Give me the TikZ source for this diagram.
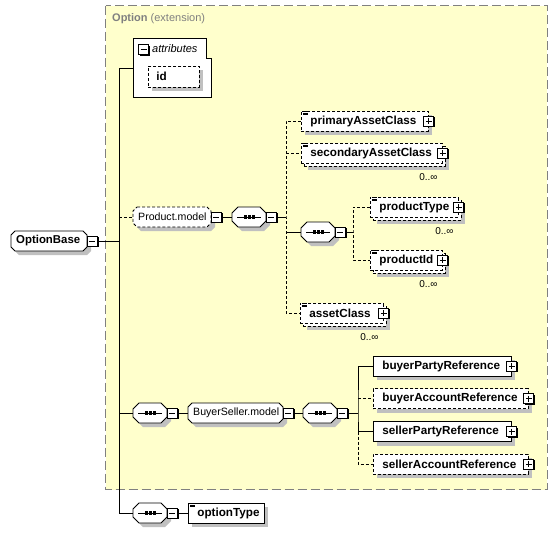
\documentclass[tikz,border=0pt]{standalone}
\usepackage{fontspec}
\setmainfont{Liberation Sans}
\usetikzlibrary{calc,shadows}
\definecolor{optyellow}{RGB}{255,255,204}
\definecolor{shade}{RGB}{192,192,192}
\definecolor{framegray}{RGB}{128,128,128}
\tikzset{
 shd/.style={drop shadow={shadow xshift=4pt,shadow yshift=-4pt,fill=shade,opacity=1,draw=none}},
 elbox/.style={draw,fill=white,line width=0.8pt,rectangle,minimum height=20pt,inner xsep=9pt,inner ysep=0pt,align=left,anchor=west,font=\fontsize{11.7}{13}\selectfont\bfseries},
 grp/.style={rectangle,minimum height=20pt,inner xsep=5pt,inner ysep=0pt,align=left,anchor=west},
 opt/.style={dash pattern=on 3pt off 2pt},
 conn/.style={line width=0.8pt},
 pmbox/.style={draw,fill=white,line width=0.8pt,minimum size=10pt,inner sep=0pt,rectangle,drop shadow={shadow xshift=1.2pt,shadow yshift=-1.2pt,fill=black,opacity=1,draw=none}},
 minusbox/.style={pmbox,path picture={\draw[line width=0.9pt] ([xshift=2pt]path picture bounding box.west) -- ([xshift=-2pt]path picture bounding box.east);}},
 plusbox/.style={pmbox,path picture={\draw[line width=0.9pt] ([xshift=2pt]path picture bounding box.west) -- ([xshift=-2pt]path picture bounding box.east) ([yshift=-2pt]path picture bounding box.north) -- ([yshift=2pt]path picture bounding box.south);}},
 mult/.style={font=\fontsize{10}{12}\selectfont,anchor=east,inner sep=0pt},
}
% octagon path: style, x1, y1, x2, y2, cut
\newcommand\octo[6]{\path[#1] (#2+#6,#3) -- (#4-#6,#3) -- (#4,#3+#6) -- (#4,#5-#6) -- (#4-#6,#5) -- (#2+#6,#5) -- (#2,#5-#6) -- (#2,#3+#6) -- cycle;}
% sequence compositor: name, left x, centre y
\newcommand\seqnode[3]{%
 \octo{draw,fill=white,conn,shd}{#2}{#3-10}{#2+34}{#3+10}{6}
 \node[inner sep=0pt,minimum width=34pt,minimum height=20pt,anchor=west] (#1) at (#2,#3) {};
 \draw[line width=1pt] ($(#1.west)+(5,0)$) -- ($(#1.east)+(-5,0)$);
 \fill ($(#1.center)+(-5.7,-1.6)$) rectangle +(3.2,3.2);
 \fill ($(#1.center)+(-1.6,-1.6)$) rectangle +(3.2,3.2);
 \fill ($(#1.center)+(2.5,-1.6)$) rectangle +(3.2,3.2);
 \node[minusbox] (#1m) at ($(#1.east)+(5,0)$) {};}
\newcommand\elicon[1]{\draw[line width=0.6pt] ($(#1.north west)+(2,1)$) -- +(5,0) ($(#1.north west)+(2,2.5)$) -- +(5,0) ($(#1.north west)+(2,4)$) -- +(5,0);}
\begin{document}
\begin{tikzpicture}[x=1pt,y=-1pt]
\useasboundingbox (0,0) rectangle (556,533);
% extension frame
\draw[fill=optyellow,draw=framegray,line width=1pt,dash pattern=on 9pt off 4pt] (105.5,5.5) rectangle (547,489.5);
\node[anchor=west,text=framegray,font=\fontsize{11}{13}\selectfont,inner sep=0pt] (title) at (112,19) {\textbf{Option} (extension)};

% attributes
\draw[fill=white,line width=0.8pt] (133,38) -- (206,38) -- (206,58) -- (211,58) -- (211,97) -- (133,97) -- cycle;
\node[inner sep=0pt,minimum width=78pt,minimum height=59pt,anchor=north west] (attrs) at (133,38) {};
\node[minusbox] (attrm) at (143.5,49.5) {};
\node[anchor=west,inner sep=0pt,font=\fontsize{11}{13}\selectfont\itshape] (attrt) at (152,48.5) {attributes};
\node[elbox,opt,shd,text width=35pt,inner xsep=8pt,minimum height=21pt] (id) at (148,76.5) {id};

% OptionBase
\octo{draw,fill=white,conn,shd}{11}{231}{87}{251}{4}
\node[grp,text width=66pt,font=\fontsize{11.4}{13}\selectfont\bfseries] (ob) at (11,241) {OptionBase};
\node[minusbox] (obm) at ($(ob.east)+(5,0)$) {};

% Product.model
\octo{draw,fill=white,conn,opt,shd}{133}{207}{211}{227}{4}
\node[grp,text width=68pt,font=\fontsize{10.6}{12}\selectfont] (pmod) at (133,217) {Product.model};
\node[minusbox] (pmodm) at ($(pmod.east)+(5,0)$) {};
\seqnode{seqa}{232}{217}
\seqnode{seqb}{301}{232}

% elements of Product.model
\node[elbox,opt,shd,text width=109pt] (prim) at (301,121) {primaryAssetClass};
\elicon{prim}
\node[plusbox] (primp) at (prim.east) {};

\node[elbox,opt,shd,text width=123pt] (secb) at (304,156) {};
\node[elbox,opt,text width=123pt] (sec) at (301,153) {secondaryAssetClass};
\elicon{sec}
\node[plusbox] (secp) at (sec.east) {};
\node[mult] (secl) at ($(sec.south east)+(-5,14)$) {0..∞};

\node[elbox,opt,shd,text width=70pt] (ptypeb) at (373,210) {};
\node[elbox,opt,text width=70pt] (ptype) at (370,207) {productType};
\elicon{ptype}
\node[plusbox] (ptypep) at (ptype.east) {};
\node[mult] (ptypel) at ($(ptype.south east)+(-5,13.5)$) {0..∞};

\node[elbox,opt,shd,text width=54pt] (pidb) at (373,263) {};
\node[elbox,opt,text width=54pt] (pid) at (370,260) {productId};
\elicon{pid}
\node[plusbox] (pidp) at (pid.east) {};
\node[mult] (pidl) at ($(pid.south east)+(-5,13.5)$) {0..∞};

\node[elbox,opt,shd,text width=65pt] (assetb) at (303,316) {};
\node[elbox,opt,text width=65pt] (asset) at (300,313) {assetClass};
\elicon{asset}
\node[plusbox] (assetp) at (asset.east) {};
\node[mult] (assetl) at ($(asset.south east)+(-5,13.5)$) {0..∞};

% BuyerSeller branch
\seqnode{seqc}{133}{413}
\octo{draw,fill=white,conn,shd}{188}{403}{283}{423}{4}
\node[grp,text width=85pt,font=\fontsize{10.6}{12}\selectfont] (bsm) at (188,413) {BuyerSeller.model};
\node[minusbox] (bsmm) at ($(bsm.east)+(5,0)$) {};
\seqnode{seqd}{303}{413}

\node[elbox,shd,text width=120pt] (bpr) at (373,366) {buyerPartyReference};
\node[plusbox] (bprp) at (bpr.east) {};
\node[elbox,opt,shd,text width=137pt] (bar) at (373,398.5) {buyerAccountReference};
\node[plusbox] (barp) at (bar.east) {};
\node[elbox,shd,text width=120pt] (spr) at (373,431.5) {sellerPartyReference};
\node[plusbox] (sprp) at (spr.east) {};
\node[elbox,opt,shd,text width=137pt] (sar) at (373,464) {sellerAccountReference};
\node[plusbox] (sarp) at (sar.east) {};

% optionType branch
\seqnode{seqe}{133}{513}
\node[elbox,shd,text width=58pt] (otype) at (188,513) {optionType};
\elicon{otype}

% junctions
\coordinate (jt) at (119,68);
\coordinate (jb) at (119,513);
\coordinate (ja) at (286,217);
\coordinate (jbq) at (353,232);
\coordinate (jd) at (358,413);

% connectors
\draw[conn] (attrs.west |- jt) -- (jt) -- (jb) -- (seqe.west);
\draw[conn] (obm.east) -- (obm.east -| jt);
\draw[conn,opt] (pmod.west -| jt) -- (pmod.west);
\draw[conn] (seqc.west -| jt) -- (seqc.west);
\draw[conn] (pmodm.east) -- (seqa.west);
\draw[conn] (seqam.east) -- (ja);
\draw[conn,opt] (prim.west) -| (ja) |- (asset.west);
\draw[conn,opt] (sec.west -| ja) -- (sec.west);
\draw[conn] (seqb.west -| ja) -- (seqb.west);
\draw[conn] (seqbm.east) -- (seqbm.east -| jbq);
\draw[conn,opt] (ptype.west) -| (jbq) |- (pid.west);
\draw[conn] (seqcm.east) -- (bsm.west);
\draw[conn] (bsmm.east) -- (seqd.west);
\draw[conn] (seqdm.east) -- (jd);
\draw[conn] (bpr.west) -| (jd) -- (jd |- spr.west) -- (spr.west);
\draw[conn,opt] (bar.west -| jd) -- (bar.west);
\draw[conn,opt] (jd |- spr.west) |- (sar.west);
\draw[conn] (seqem.east) -- (otype.west);
\end{tikzpicture}
\end{document}
